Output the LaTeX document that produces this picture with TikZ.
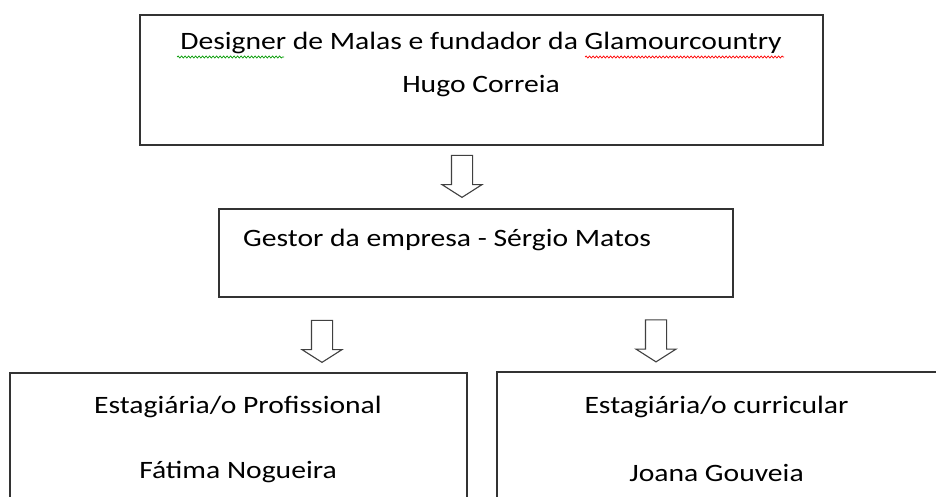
\documentclass[tikz,border=0pt]{standalone}
\usepackage{fontspec}
\setmainfont{Carlito}[FakeStretch=1.185]
\usetikzlibrary{shapes.arrows,decorations.pathmorphing}

\tikzset{caixa/.style = {rectangle, draw=black!80, line width=1.6pt, inner sep=0pt},
         texto/.style = {anchor=base, inner sep=0pt, text=black,
                         font=\fontsize{25}{30}\selectfont},
         seta/.style  = {single arrow, draw=black!75, line width=1.1pt, fill=white,
                         shape border rotate=270, minimum height=42pt, inner sep=10pt,
                         single arrow head extend=9.5pt, single arrow tip angle=115},
         erro/.style  = {decorate, decoration={snake, amplitude=1pt, segment length=3.5pt},
                         line width=0.7pt}
        }

\begin{document}
\begin{tikzpicture}[x=1pt,y=1pt]
  \useasboundingbox (0,0) rectangle (936,496);
  \clip (0,0) rectangle (936,496);
  % caixas
  \node[caixa, minimum width=683pt, minimum height=130pt] (fundador) at (481.5,416) {};
  \node[caixa, minimum width=514pt, minimum height=88pt] (gestor) at (476,243) {};
  \node[caixa, minimum width=457pt, minimum height=150pt] (profissional) at (238.5,48) {};
  \node[caixa, minimum width=443pt, minimum height=150pt] (curricular) at (718.5,49) {};
  % textos
  \node[texto] (designer) at (481,446) {Designer de Malas e fundador da Glamourcountry};
  \node[texto] (hugo) at (481,403) {Hugo Correia};
  \node[texto, anchor=base west] (sergio) at (243,250) {Gestor da empresa - Sérgio Matos};
  \node[texto] (estprof) at (238,83) {Estagiária/o Profissional};
  \node[texto] (fatima) at (238,18) {Fátima Nogueira};
  \node[texto] (estcurr) at (716.5,83) {Estagiária/o curricular};
  \node[texto] (joana) at (716.5,15) {Joana Gouveia};
  % setas
  \node[seta] (seta1) at (462,323) {};
  \node[seta] (seta2) at (322,158) {};
  \node[seta] (seta3) at (656,158.5) {};
  % sublinhados
  \draw[erro, green!60!black] (177,439) -- (284,439);
  \draw[erro, red] (585,439) -- (784,439);
\end{tikzpicture}
\end{document}
